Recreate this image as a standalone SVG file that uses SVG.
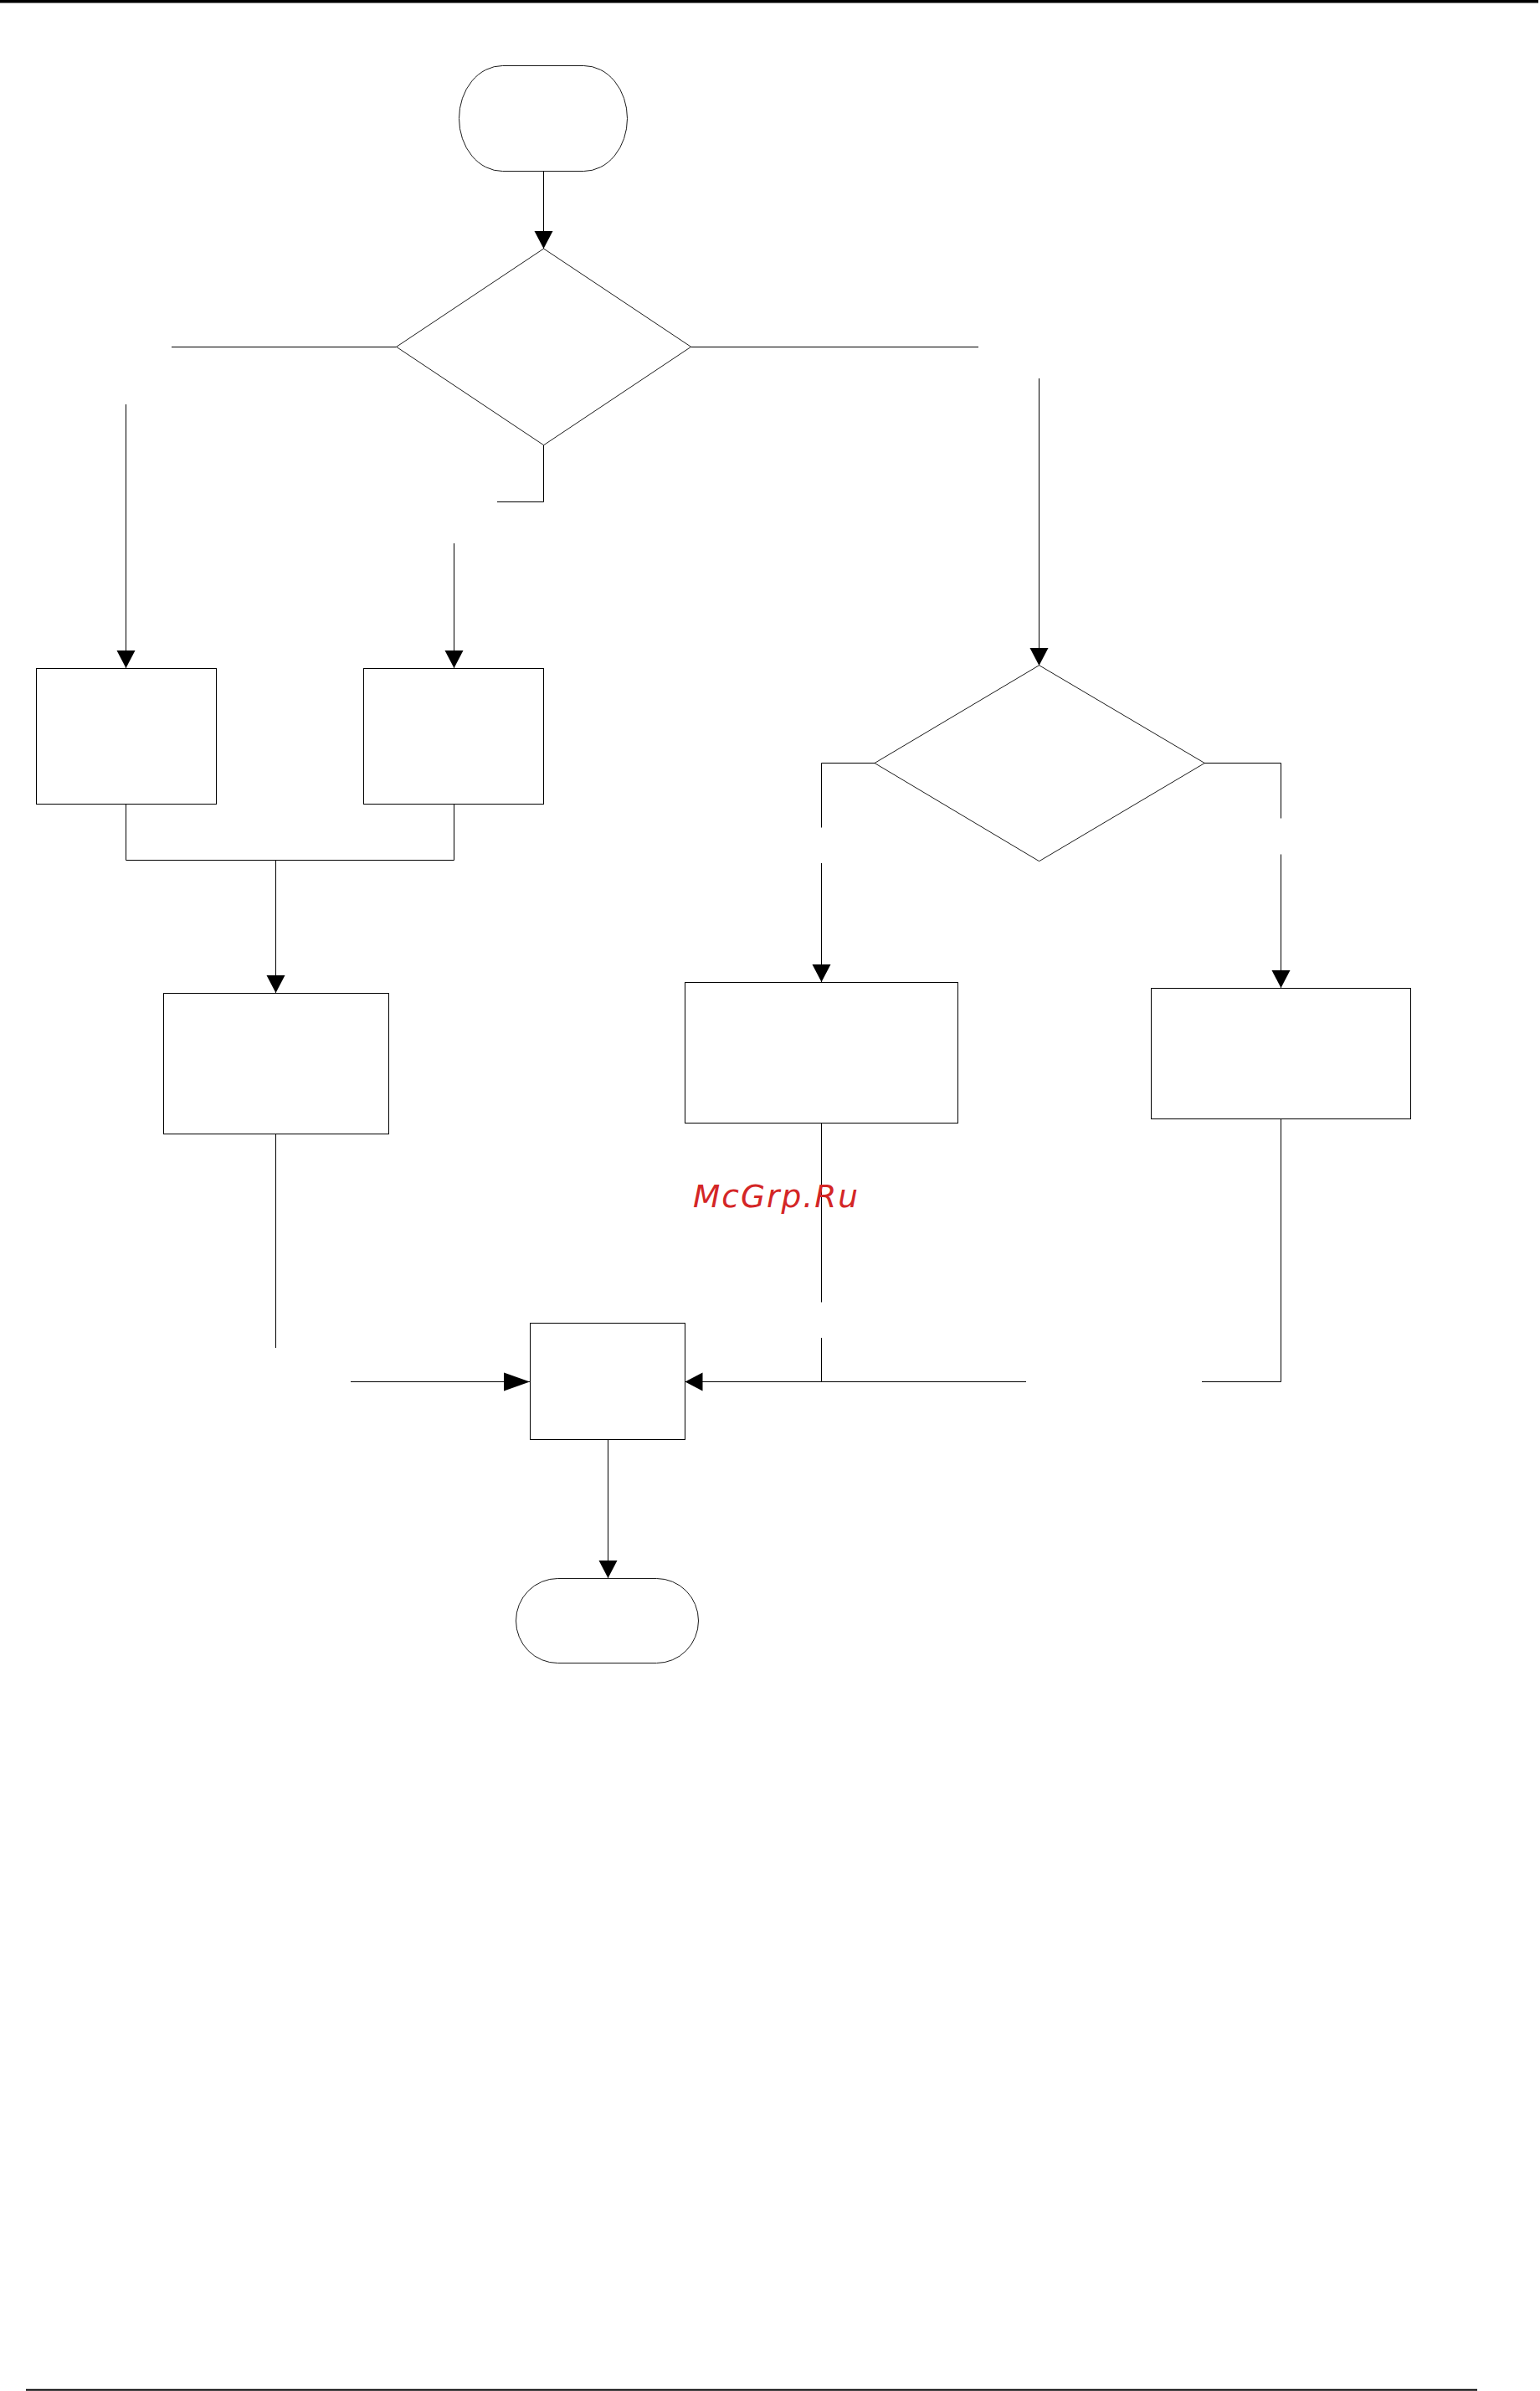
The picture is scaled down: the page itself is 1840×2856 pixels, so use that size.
<svg xmlns="http://www.w3.org/2000/svg" width="1840" height="2856" viewBox="0 0 1840 2856">
<style>
.c{fill:none;stroke:#000;stroke-width:1}
.b{fill:#fff;stroke:#000;stroke-width:1}
.d{fill:#fff;stroke:#000;stroke-width:.9}
.t{fill:#fff;stroke:#000;stroke-width:.9}
.w{font-family:"DejaVu Sans",sans-serif;font-style:oblique;font-size:37.5px;letter-spacing:2px;fill:#d42626}
</style>
<defs>
<marker id="a" markerUnits="userSpaceOnUse" markerWidth="22" markerHeight="24" refX="21" refY="11.5" orient="auto"><path d="M0 .5L21 11.5L0 22.5Z" fill="#000"/></marker>
<marker id="l" markerUnits="userSpaceOnUse" markerWidth="32" markerHeight="24" refX="31" refY="11.5" orient="auto"><path d="M0 .5L31 11.5L0 22.5Z" fill="#000"/></marker>
</defs>
<rect width="1838" height="3.5" fill="#000"/>
<rect x="31" y="2853.7" width="1734" height="2" fill="#000"/>
<g id="connectors">
<path class="c" d="M649.5 204.5V297" marker-end="url(#a)"/>
<path class="c" d="M473.5 414.5H205"/>
<path class="c" d="M825.5 414.5H1169"/>
<path class="c" d="M649.5 531.5V599.5H594"/>
<path class="c" d="M150.5 483V798" marker-end="url(#a)"/>
<path class="c" d="M542.5 649V798" marker-end="url(#a)"/>
<path class="c" d="M1241.5 452V795" marker-end="url(#a)"/>
<path class="c" d="M1045 911.5H981.5V988.5"/>
<path class="c" d="M981.5 1031V1173" marker-end="url(#a)"/>
<path class="c" d="M1439 911.5H1530.5V977.5"/>
<path class="c" d="M1530.5 1020.5V1180" marker-end="url(#a)"/>
<path class="c" d="M150.5 960.5V1027.5H542.5V960.5"/>
<path class="c" d="M329.5 1027.5V1186" marker-end="url(#a)"/>
<path class="c" d="M329.5 1354.5V1610"/>
<path class="c" d="M419 1650.5H633" marker-end="url(#l)"/>
<path class="c" d="M981.5 1341.5V1555.5"/>
<path class="c" d="M981.5 1598V1650.5"/>
<path class="c" d="M1226 1650.5H818.5" marker-end="url(#a)"/>
<path class="c" d="M1436 1650.5H1530.5V1336.5"/>
<path class="c" d="M726.5 1719.5V1885" marker-end="url(#a)"/>
</g>
<g id="start"><rect class="t" x="548.5" y="78.5" width="201" height="126" rx="52" ry="63"/></g>
<g id="decision-1"><path class="d" d="M649.6 297L825.6 414.3L649.6 531.7L473.6 414.3Z"/></g>
<g id="box-1"><rect class="b" x="43.5" y="798.5" width="215" height="162"/></g>
<g id="box-2"><rect class="b" x="434.5" y="798.5" width="215" height="162"/></g>
<g id="box-3"><rect class="b" x="195.5" y="1186.5" width="269" height="168"/></g>
<g id="decision-2"><path class="d" d="M1241.6 794.7L1439.3 911.5L1241.6 1028.7L1045 911.5Z"/></g>
<g id="box-4"><rect class="b" x="818.5" y="1173.5" width="326" height="168"/></g>
<g id="box-5"><rect class="b" x="1375.5" y="1180.5" width="310" height="156"/></g>
<g id="box-6"><rect class="b" x="633.5" y="1580.5" width="185" height="139"/></g>
<g id="end"><rect class="t" x="616.5" y="1885.5" width="218" height="101" rx="50" ry="50.5"/></g>
<text class="w" x="828" y="1442.3">McGrp.Ru</text>
</svg>
